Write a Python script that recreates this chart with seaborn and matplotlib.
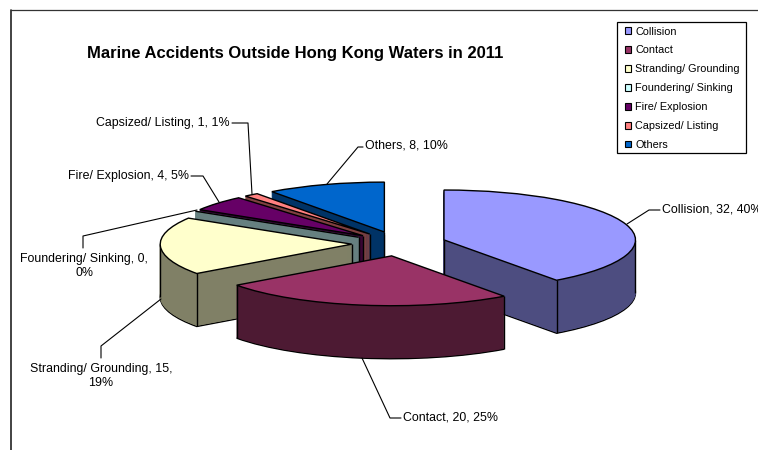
import numpy as np
import matplotlib
matplotlib.use("Agg")
import matplotlib.pyplot as plt
import seaborn as sns

categories = ["Collision", "Contact", "Stranding/ Grounding", "Foundering/ Sinking",
              "Fire/ Explosion", "Capsized/ Listing", "Others"]
values = [32, 20, 15, 0, 4, 1, 8]
top_colors = ["#9999FF", "#993366", "#FFFFCC", "#CCFFFF", "#660066", "#FF8080", "#0066CC"]
side_colors = ["#4D4D80", "#4D1A33", "#808066", "#668080", "#330033", "#804040", "#003366"]
title = "Marine Accidents Outside Hong Kong Waters in 2011"

sns.set_style("white")
plt.rcParams["font.family"] = ["Liberation Sans", "DejaVu Sans"]
top_pal = sns.color_palette(top_colors)
side_pal = sns.color_palette(side_colors)

W, H = 758, 450
fig = plt.figure(figsize=(W / 100, H / 100), dpi=100)
ax = fig.add_axes([0, 0, 1, 1])
YS = 3.84
DEPTH = 53
CX, CY = 399, 243.7
R = 191.5
explode = [0.247 * R] * len(values)
# back-to-front drawing order of the slices
rank = {6: 0, 5: 1, 4: 2, 3: 3, 2: 4, 0: 5, 1: 6}


def layer(d, colors, **kw):
    w, _ = ax.pie(values, explode=explode, colors=colors, startangle=90, counterclock=False,
                  radius=R, center=(CX, (H - CY - d) * YS), normalize=True, **kw)
    return w


for d in range(DEPTH, 0, -1):
    wedges = layer(d, side_pal)
    for i, w in enumerate(wedges):
        w.set_zorder(rank[i] * 1000 + (DEPTH - d) + 1)
        if d == DEPTH:
            w.set_edgecolor("black")
            w.set_linewidth(1.0)
        else:
            w.set_edgecolor(side_pal[i])
            w.set_linewidth(2.2 if values[i] == 0 else 0.6)

tops = layer(0, top_pal, wedgeprops=dict(edgecolor="black", linewidth=1.0))
for i, w in enumerate(tops):
    w.set_zorder(rank[i] * 1000 + 950)
    cx, cy = w.center
    rim = [a for a in (w.theta1, w.theta2) if np.sin(np.radians(a)) <= 0]
    rim += [k for k in (-360, -180, 0, 180) if w.theta1 < k < w.theta2]
    xs = [cx + w.r * np.cos(np.radians(a)) for a in rim]
    ys = [cy + w.r * np.sin(np.radians(a)) for a in rim]
    if not w.theta1 < -90 < w.theta2:
        xs.append(cx)
        ys.append(cy)
    for x, y in zip(xs, ys):
        ax.plot([x, x], [y, y - DEPTH * YS], color="black", lw=1.0,
                zorder=rank[i] * 1000 + 900, solid_capstyle="butt")

ax.set_aspect("auto")
ax.set_xlim(0, W)
ax.set_ylim(0, H * YS)
ax.axis("off")

# overlay in pixel units for text, leaders and chart frame
ov = fig.add_axes([0, 0, 1, 1], facecolor="none")
ov.set_xlim(0, W)
ov.set_ylim(H, 0)
ov.axis("off")
ov.set_zorder(5)

ov.plot([11, 11], [10, 450], color="#222222", lw=1.2)
ov.plot([11, 758], [10, 10], color="#333333", lw=0.9)

ov.text(295, 53.5, title, ha="center", va="center", fontsize=11.95, fontweight="bold", color="black")

total = sum(values)
lab = [f"{c}, {v}, {round(v / total * 100)}%" for c, v in zip(categories, values)]
lab[2] = f"{categories[2]}, {values[2]},\n{round(values[2] / total * 100)}%"
lab[3] = f"{categories[3]}, {values[3]},\n{round(values[3] / total * 100)}%"
label_pos = [(662, 210, "left"), (403, 418, "left"), (101, 376, "center"), (84, 266, "center"),
             (189, 176, "right"), (230, 123, "right"), (365, 146, "left")]
leaders = [
    [(627, 224), (649, 210), (660, 210)],
    [(362, 358), (390, 418), (401, 418)],
    [(161, 299), (101, 346), (101, 358)],
    [(197, 210), (83, 236), (83, 248)],
    [(219, 202), (203, 176), (191, 176)],
    [(252, 194), (248, 123), (232, 123)],
    [(327, 184), (358, 147), (363, 147)],
]
for t, (x, y, ha), pts in zip(lab, label_pos, leaders):
    ov.text(x, y, t, ha=ha, va="center", fontsize=8.95, color="black", linespacing=1.27,
            multialignment="center", clip_on=False)
    px, py = zip(*pts)
    ov.plot(px, py, color="black", lw=0.8)

ov.add_patch(matplotlib.patches.Rectangle((617, 22), 129, 131, facecolor="white",
                                          edgecolor="black", linewidth=0.9))
handles = [matplotlib.patches.Patch(facecolor=top_pal[i], edgecolor="black", linewidth=0.8)
           for i in range(len(values))]
leg = ov.legend(handles, categories, loc="upper left",
                bbox_to_anchor=(620 / W, 1 - 22 / H), bbox_transform=fig.transFigure,
                frameon=False, fontsize=7.8,
                handlelength=0.58, handleheight=0.58, handletextpad=0.42,
                labelspacing=0.82, borderpad=0.42, borderaxespad=0, labelcolor="black")

fig.savefig("out.png", dpi=100)
